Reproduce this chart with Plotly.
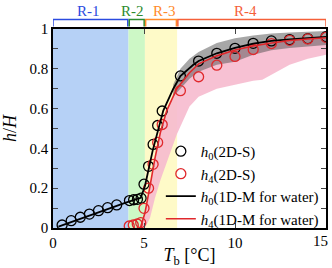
import plotly.graph_objects as go

# ---- data ----
T_h0 = [0.5, 1.0, 1.5, 2.0, 2.5, 3.0, 3.5, 4.2, 4.43, 4.64, 4.84, 5.0, 5.25, 5.5, 5.75, 6.0,
        7, 8, 9, 10, 11, 12, 13, 14, 15]
h0_2d = [0.015, 0.037, 0.054, 0.070, 0.087, 0.102, 0.116, 0.138, 0.142, 0.144, 0.150,
         0.220, 0.310, 0.420, 0.515, 0.588, 0.764, 0.839, 0.878, 0.903, 0.928, 0.940,
         0.947, 0.952, 0.961]
T_h4 = [4.19, 4.41, 4.63, 4.82, 5.0, 5.25, 5.5, 5.75, 6.0, 7, 8, 9, 10, 11, 12, 13, 14, 15]
h4_2d = [0.010, 0.015, 0.020, 0.027, 0.099, 0.200, 0.320, 0.430, 0.520, 0.690, 0.760,
         0.818, 0.862, 0.897, 0.927, 0.943, 0.950, 0.958]

T_line0 = [0.3, 1, 2, 3, 4, 4.82, 5.05, 5.48, 6.06, 6.61, 7.0, 7.71, 8, 9, 10, 11, 12, 13, 14, 15]
h0_1d = [0.007, 0.030, 0.065, 0.098, 0.128, 0.152, 0.210, 0.390, 0.590, 0.700, 0.764,
         0.820, 0.839, 0.878, 0.905, 0.927, 0.940, 0.948, 0.953, 0.960]
T_line4 = [4.8, 5.05, 5.33, 5.6, 5.9, 6.25, 6.8, 7.5, 8, 9, 10, 11, 12, 13, 14, 15]
h4_1d = [0.0, 0.075, 0.210, 0.350, 0.480, 0.590, 0.700, 0.780, 0.825, 0.865, 0.895,
         0.915, 0.930, 0.942, 0.950, 0.956]

T_gray = [6.6, 7, 7.5, 8, 9, 10, 11, 12, 13, 14, 15]
gray_hi = [0.72, 0.80, 0.85, 0.885, 0.93, 0.953, 0.967, 0.977, 0.982, 0.987, 0.99]
gray_lo = [0.66, 0.70, 0.75, 0.785, 0.82, 0.836, 0.87, 0.893, 0.905, 0.912, 0.92]

T_pink = [4.8, 5.05, 5.33, 5.6, 5.9, 6.25, 6.8, 7.5, 8, 9, 10, 11, 11.5, 12, 13, 14, 15]
pink_hi = [0.0, 0.075, 0.210, 0.350, 0.480, 0.590, 0.700, 0.780, 0.825, 0.865, 0.895,
           0.915, 0.922, 0.930, 0.942, 0.950, 0.956]
pink_lo = [0.0, 0.0, 0.05, 0.15, 0.24, 0.33, 0.47, 0.61, 0.66, 0.70, 0.72, 0.74, 0.745,
           0.77, 0.82, 0.85, 0.87]

x_tickvals = [0, 5, 10, 15]
x_ticktext = ["0", "5", "10", ""]
x_last_label = "15"
y_tickvals = [0, 0.2, 0.4, 0.6, 0.8, 1]
y_ticktext = ["0", "0.2", "0.4", "0.6", "0.8", "1"]
y_minor = [0.1, 0.3, 0.5, 0.7, 0.9]

regions = ["R-1", "R-2", "R-3", "R-4"]
region_edges = [0, 4.15, 5.05, 6.82, 15]
region_fill = ["#b6d1f6", "#cdf8c6", "#fefac8", None]
region_color = ["#2b4be0", "#2e8b2e", "#ff8a2a", "#f5603a"]
label_x = [1.95, 4.37, 6.13, 10.6]

FONT = "Liberation Serif"
fig = go.Figure()

# background region shading
for i in range(4):
    if region_fill[i]:
        fig.add_shape(type="rect", xref="x", yref="y", x0=region_edges[i], x1=region_edges[i + 1],
                      y0=0, y1=1, fillcolor=region_fill[i], line_width=0, layer="below")

# brackets above plot
for i in range(4):
    a = region_edges[i] + (0.04 if i > 0 else 0)
    b = region_edges[i + 1] - (0.04 if i < 3 else 0)
    fig.add_shape(type="path", xref="x", yref="paper",
                  path=f"M {a},1.012 L {a},1.048 L {b},1.048 L {b},1.012",
                  line=dict(color=region_color[i], width=1.5))
    fig.add_annotation(x=label_x[i], y=1.09, xref="x", yref="paper", text=regions[i],
                       showarrow=False, font=dict(family=FONT, size=15, color=region_color[i]),
                       yanchor="middle")

# last x tick label, nudged inside the page like the reference
fig.add_annotation(x=x_tickvals[-1], y=0, xref="x", yref="paper", text=x_last_label,
                   showarrow=False, xanchor="right", yanchor="top", xshift=4, yshift=-3,
                   font=dict(family=FONT, size=15, color="black"))

# bands
fig.add_trace(go.Scatter(x=T_pink + T_pink[::-1], y=pink_hi + pink_lo[::-1], fill="toself",
                         fillcolor="rgba(246,186,206,0.9)", line=dict(width=0), mode="lines",
                         showlegend=False, hoverinfo="skip"))
fig.add_trace(go.Scatter(x=T_gray + T_gray[::-1], y=gray_hi + gray_lo[::-1], fill="toself",
                         fillcolor="rgba(80,80,80,0.5)", line=dict(width=0), mode="lines",
                         showlegend=False, hoverinfo="skip"))

# markers
fig.add_trace(go.Scatter(x=T_h0, y=h0_2d, mode="markers", name="<i>h</i><sub>0</sub>(2D-S)",
                         marker=dict(symbol="circle-open", size=10, color="black", line=dict(width=1.3))))
fig.add_trace(go.Scatter(x=T_h4, y=h4_2d, mode="markers", name="<i>h</i><sub>4</sub>(2D-S)",
                         marker=dict(symbol="circle-open", size=10, color="#e0282c", line=dict(width=1.3))))
# lines
fig.add_trace(go.Scatter(x=T_line0, y=h0_1d, mode="lines", name="<i>h</i><sub>0</sub>(1D-M for water)",
                         line=dict(color="black", width=1.8)))
fig.add_trace(go.Scatter(x=T_line4, y=h4_1d, mode="lines", name="<i>h</i><sub>4</sub>(1D-M for water)",
                         line=dict(color="#e0282c", width=1.6)))

fig.update_layout(
    width=332, height=268, margin=dict(l=53, r=6, t=29, b=40),
    plot_bgcolor="white", paper_bgcolor="white",
    font=dict(family=FONT, size=15, color="black"),
    showlegend=True,
    legend=dict(x=0.395, y=-0.035, xanchor="left", yanchor="bottom", bgcolor="rgba(0,0,0,0)",
                font=dict(family=FONT, size=15), tracegroupgap=0, itemwidth=30),
)
fig.update_xaxes(range=[0, 15], tickvals=x_tickvals, ticktext=x_ticktext, ticks="inside", ticklen=5,
                 showline=True, linecolor="black", linewidth=1.5, mirror="ticks", showgrid=False,
                 zeroline=False, title=dict(text="<i>T</i><sub>b</sub> [°C]", standoff=9),
                 tickfont=dict(size=15), automargin=False)
fig.update_yaxes(range=[0, 1], tickvals=y_tickvals, ticktext=y_ticktext, ticks="inside", ticklen=5,
                 minor=dict(tickvals=y_minor, ticks="inside", ticklen=5),
                 showline=True, linecolor="black", linewidth=1.5, mirror="ticks", showgrid=False,
                 zeroline=False, title=dict(text="<i>h</i>/<i>H</i>", standoff=12),
                 tickfont=dict(size=15), automargin=False)

fig.write_html("out.html", config={"displayModeBar": False},
               post_script="document.body.style.margin='0';")
